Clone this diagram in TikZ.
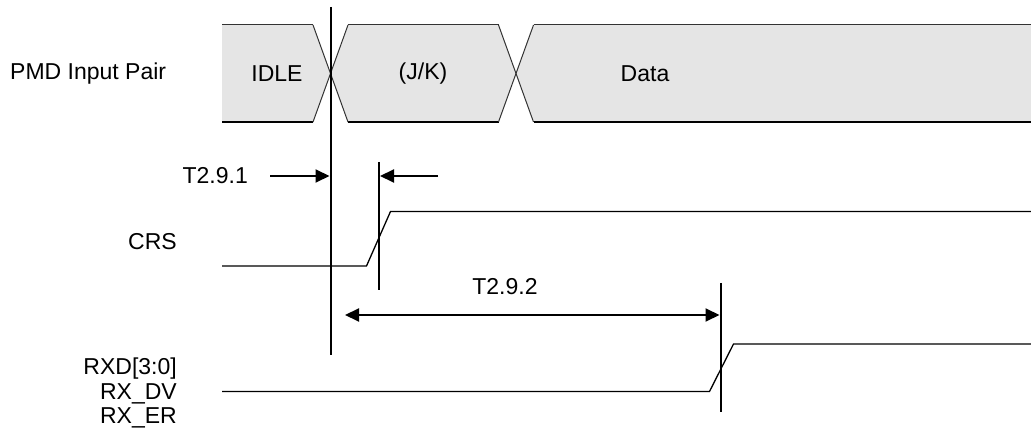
\documentclass[tikz,border=0pt]{standalone}
\usepackage{fontspec}
\setmainfont{Liberation Sans}
\usetikzlibrary{arrows.meta}

\tikzset{
  busfill/.style={fill=black!10},
  busedge/.style={draw=black!80,line width=1pt},
  buslow/.style={draw=black,line width=2pt},
  sig/.style={line width=1.3pt},
  marker/.style={line width=2pt},
  dim/.style={line width=2pt,-{Triangle[length=14pt,width=13pt]}},
  dimboth/.style={line width=2pt,{Triangle[length=14pt,width=13pt]}-{Triangle[length=14pt,width=13pt]}},
  lbl/.style={font=\fontsize{23}{24.5}\selectfont,inner sep=0pt},
}

\begin{document}
\begin{tikzpicture}[x=1pt,y=-1pt]
\useasboundingbox (0,0) rectangle (1031,430);

% bus: IDLE, (J/K), Data
\fill[busfill] (222,25) -- (313,25) -- (330.5,73.5) -- (313,122) -- (222,122) -- cycle;
\fill[busfill] (330.5,73.5) -- (348,25) -- (498.5,25) -- (516,73.5) -- (498.5,122) -- (348,122) -- cycle;
\fill[busfill] (516,73.5) -- (533.5,25) -- (1031,25) -- (1031,122) -- (533.5,122) -- cycle;
\draw[busedge] (222,25) -- (313,25) (348,25) -- (498.5,25) (533.5,25) -- (1031,25);
\draw[buslow] (222,122) -- (313,122) (348,122) -- (498.5,122) (533.5,122) -- (1031,122);
\foreach \t in {313,498.5} {
  \draw[busedge] (\t,25) -- ++(35,97);
  \draw[busedge] (\t,122) -- ++(35,-97);
}
\node[lbl] (idle) at (277,73.5) {IDLE};
\node[lbl] (jk) at (423,73.5) {(J/K)};
\node[lbl] (data) at (645,73.5) {Data};

% signal names
\node[lbl,anchor=west] (pmd) at (10,73.5) {PMD Input Pair};
\node[lbl,anchor=east] (crs) at (177,242) {CRS};
\node[lbl,anchor=east,align=right] (rxd) at (177,393) {RXD[3:0]\\RX\_DV\\RX\_ER};

% waveforms
\draw[sig] (222,266) -- (366.5,266) -- (390.5,211.5) -- (1031,211.5);
\draw[sig] (222,391.5) -- (709.5,391.5) -- (733.5,344) -- (1031,344);

% timing markers
\coordinate (m1top) at (330.5,7);
\coordinate (m1bot) at (330.5,355);
\coordinate (m2top) at (379,162);
\coordinate (m2bot) at (379,290);
\coordinate (m3top) at (720.5,283);
\coordinate (m3bot) at (720.5,412);
\draw[marker] (m1top) -- (m1bot);
\draw[marker] (m2top) -- (m2bot);
\draw[marker] (m3top) -- (m3bot);

% T2.9.1
\coordinate (t1a) at (270,176);
\coordinate (t1b) at (438,176);
\draw[dim,shorten >=1pt] (t1a) -- (m1top |- t1a);
\draw[dim,shorten >=1pt] (t1b) -- (m2top |- t1b);
\node[lbl,anchor=east] (t1) at (248,176) {T2.9.1};

% T2.9.2
\coordinate (t2a) at (345,315);
\draw[dimboth,shorten >=1pt] (t2a) -- (m3top |- t2a);
\node[lbl] (t2) at (505,287) {T2.9.2};

\end{tikzpicture}
\end{document}
